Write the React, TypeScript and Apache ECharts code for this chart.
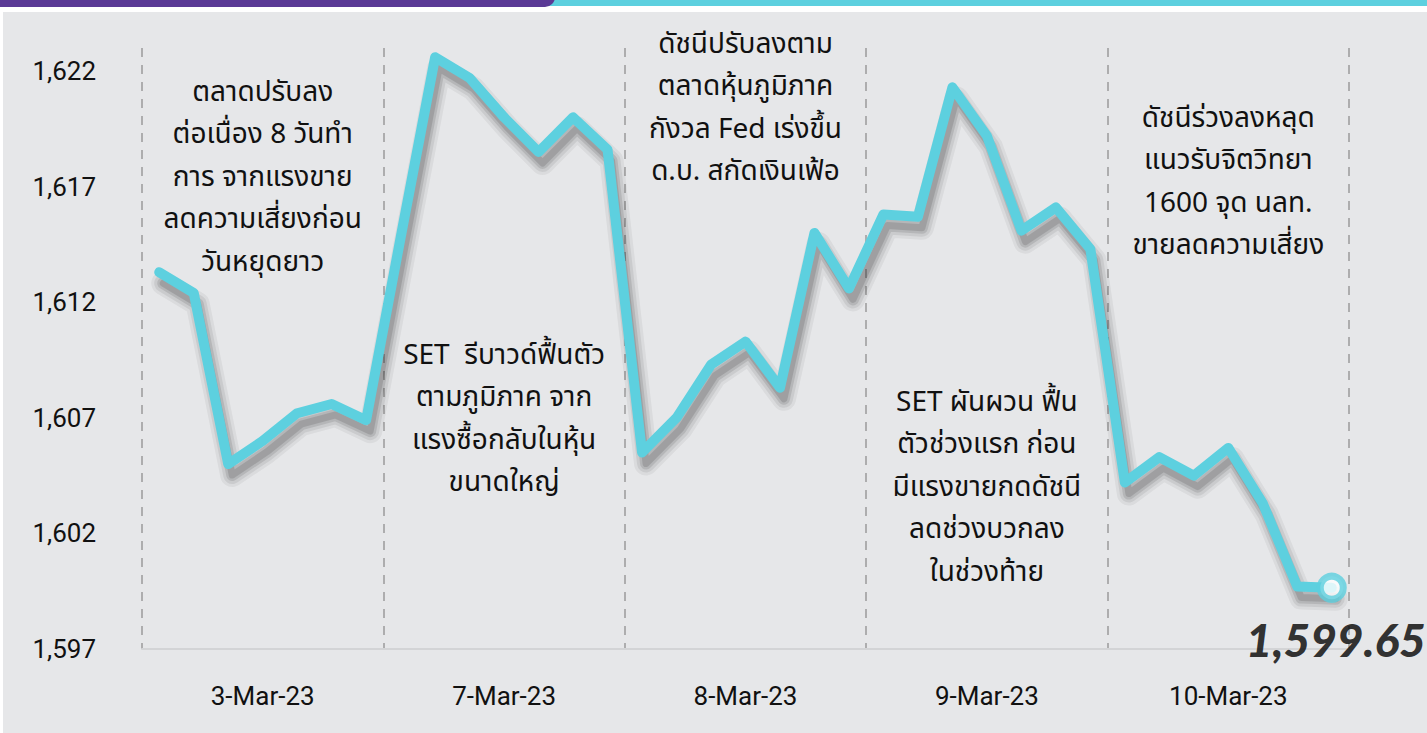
import React, { useEffect, useRef } from "react";
import * as echarts from "echarts";

const days = ["3-Mar-23", "7-Mar-23", "8-Mar-23", "9-Mar-23", "10-Mar-23"];
const setIndex = [
  1613.3, 1612.4, 1605.0, 1606.0, 1607.2, 1607.6, 1606.9,
  1614.8, 1622.6, 1621.7, 1620.0, 1618.5, 1620.0, 1618.6,
  1605.5, 1607.0, 1609.3, 1610.3, 1608.3, 1615.0, 1612.6,
  1615.8, 1615.7, 1621.3, 1619.2, 1615.1, 1616.1, 1614.3,
  1604.2, 1605.3, 1604.5, 1605.7, 1603.3, 1599.7, 1599.65,
];
const yTicks = { min: 1597, max: 1623, interval: 5 };

const notes = [
  { day: 0, top: 92, lines: ["ตลาดปรับลง", "ต่อเนื่อง 8 วันทำ", "การ จากแรงขาย", "ลดความเสี่ยงก่อน", "วันหยุดยาว"] },
  { day: 1, top: 355, lines: ["SET  รีบาวด์ฟื้นตัว", "ตามภูมิภาค จาก", "แรงซื้อกลับในหุ้น", "ขนาดใหญ่"] },
  { day: 2, top: 44, lines: ["ดัชนีปรับลงตาม", "ตลาดหุ้นภูมิภาค", "กังวล Fed เร่งขึ้น", "ด.บ. สกัดเงินเฟ้อ"] },
  { day: 3, top: 402, lines: ["SET ผันผวน ฟื้น", "ตัวช่วงแรก ก่อน", "มีแรงขายกดดัชนี", "ลดช่วงบวกลง", "ในช่วงท้าย"] },
  { day: 4, top: 118, lines: ["ดัชนีร่วงลงหลุด", "แนวรับจิตวิทยา", "1600 จุด นลท.", "ขายลดความเสี่ยง"] },
];

const CYAN = "#5dd0df";
const PURPLE = "#5b3a96";
const BG = "#e6e7e9";
const THAI = "'Noto Sans Thai', 'Noto Sans', 'DejaVu Sans', sans-serif";
const NUM = "'Liberation Sans Narrow', 'Roboto', sans-serif";
const LH = 42.5;

export default function App() {
  const ref = useRef<HTMLDivElement>(null);
  useEffect(() => {
    if (!ref.current) return;
    const chart = echarts.init(ref.current, null, { renderer: "svg" });
    const W = 1427;
    const gridLeft = 142;
    const gridRight = 78;
    const dayW = (W - gridLeft - gridRight) / days.length;
    const lastIdx = setIndex.length - 1;
    const cats = setIndex.map((_, i) => String(i));

    const noteGraphics = notes.map((n) => ({
      type: "text",
      x: gridLeft + dayW * (n.day + 0.5),
      y: n.top + ((n.lines.length - 1) * LH) / 2,
      z: 10,
      style: {
        text: n.lines.join("\n"),
        fontFamily: THAI,
        fontSize: 28,
        lineHeight: LH,
        fill: "#111",
        align: "center",
        verticalAlign: "middle",
      },
    }));

    // soft drop shadow under the line, built from the same data via api.coord
    const shadowLayers = [
      { w: 24, a: 0.05 },
      { w: 18, a: 0.07 },
      { w: 12, a: 0.1 },
      { w: 7, a: 0.12 },
    ];
    const renderShadow = (params: any, api: any) => {
      if (params.dataIndex !== 0) return null;
      const pts = setIndex.map((v, i) => {
        const p = api.coord([i, v]);
        return [p[0] + 4, p[1] + 11];
      });
      return {
        type: "group",
        children: shadowLayers.map((l) => ({
          type: "polyline",
          shape: { points: pts },
          style: {
            fill: "none",
            stroke: `rgba(0,0,0,${l.a})`,
            lineWidth: l.w,
            lineJoin: "round",
            lineCap: "round",
          },
          silent: true,
        })),
      };
    };

    chart.setOption({
      animation: false,
      backgroundColor: "#ffffff",
      graphic: [
        { type: "rect", shape: { x: 3, y: 12, width: W, height: 733 }, style: { fill: BG }, z: -10 },
        { type: "rect", shape: { x: 520, y: 0, width: W, height: 6 }, style: { fill: CYAN }, z: -9 },
        { type: "rect", shape: { x: -20, y: -20, width: 575, height: 27, r: 10 }, style: { fill: PURPLE }, z: -8 },
        ...noteGraphics,
      ],
      grid: { left: gridLeft, right: gridRight, top: 48, bottom: 84 },
      xAxis: [
        {
          type: "category",
          data: days,
          boundaryGap: true,
          axisLine: { show: true, lineStyle: { color: "#d3d4d6", width: 2 } },
          axisTick: { show: false },
          axisLabel: { color: "#111", fontSize: 26, fontFamily: NUM, margin: 34 },
          splitLine: { show: true, lineStyle: { color: "#9a9a9a", width: 1.5, type: [9, 8] } },
        },
        {
          type: "category",
          data: cats,
          boundaryGap: true,
          show: false,
        },
      ],
      yAxis: {
        type: "value",
        min: yTicks.min,
        max: yTicks.max,
        interval: yTicks.interval,
        axisLine: { show: false },
        axisTick: { show: false },
        splitLine: { show: false },
        axisLabel: {
          showMaxLabel: false,
          color: "#111",
          fontSize: 26,
          fontFamily: NUM,
          margin: 46,
          formatter: (v: number) => v.toLocaleString("en-US"),
        },
      },
      series: [
        {
          type: "custom",
          xAxisIndex: 1,
          data: setIndex.map((v, i) => [i, v]),
          renderItem: renderShadow,
          z: 2,
          silent: true,
        },
        {
          type: "line",
          xAxisIndex: 1,
          data: setIndex,
          symbol: "none",
          lineStyle: {
            color: CYAN,
            width: 10,
            cap: "round",
            join: "round",
          },
          z: 3,
        },
        {
          type: "scatter",
          xAxisIndex: 1,
          data: [[lastIdx, setIndex[lastIdx]]],
          symbol: "circle",
          symbolSize: 23,
          itemStyle: { color: "#fff", borderColor: CYAN, borderWidth: 7 },
          label: {
            show: true,
            position: "bottom",
            distance: 14,
            offset: [4, 0],
            formatter: () => setIndex[lastIdx].toLocaleString("en-US", { minimumFractionDigits: 2 }),
            fontFamily: "'Lato', sans-serif",
            fontWeight: 900,
            fontStyle: "italic",
            fontSize: 46,
            color: "#000",
          },
          z: 4,
        },
      ],
    });
    return () => chart.dispose();
  }, []);
  return (
    <div
      ref={ref}
      style={{ position: "fixed", left: 0, top: 0, width: 1427, height: 733 }}
    />
  );
}
